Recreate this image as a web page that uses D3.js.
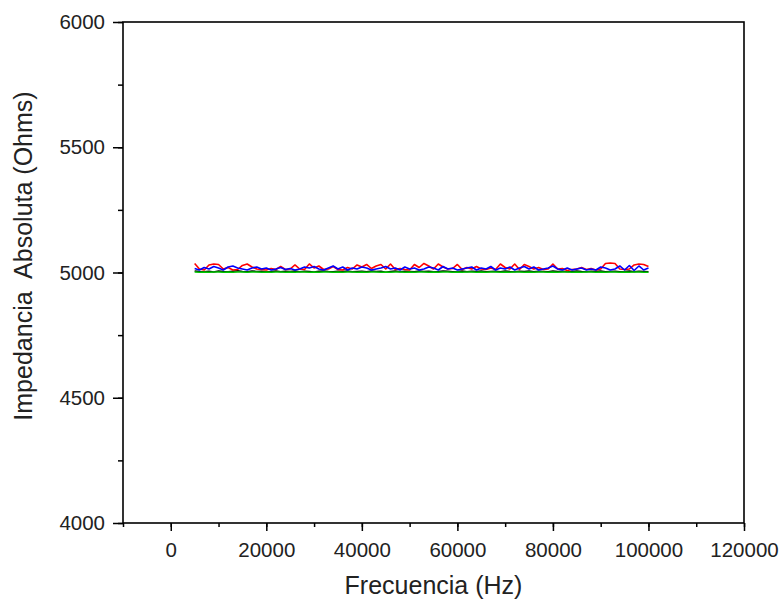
<!DOCTYPE html>
<html lang="es">
<head>
<meta charset="UTF-8">
<title>Impedancia Absoluta vs Frecuencia</title>
<script src="https://d3js.org/d3.v7.min.js"></script>
<style>
    body { margin: 0; background: #fff; }
    svg text { font-family: "Liberation Sans", Arial, sans-serif; fill: #222; }
</style>
</head>
<body>
<svg width="783" height="602"></svg>
<script>
// frequency grid (Hz) - one reading every 1000 Hz
const freqStart = 5000, freqStep = 1000;

// impedance readings (Ohms) per series
const serieNegra = [5006,5004,5003,5005,5002,5006,5004,5003,5005,5007,5004,5003,5006,5004,5005,5003,5004,5006,5003,5005,
                    5004,5006,5003,5005,5004,5002,5005,5006,5004,5003,5005,5004,5006,5003,5004,5005,5003,5006,5004,5005,
                    5001,5004,5006,5003,5005,5004,5003,5006,5004,5005,5003,5004,5006,5005,5003,5004,5006,5003,5005,5004,
                    5006,5003,5004,5005,5003,5006,5004,5003,5005,5004,5006,5003,5005,5004,5003,5006,5004,5005,5003,5004,
                    5006,5004,5003,5005,5004,5006,5003,5004,5005,5003,5004,5006,5003,5005,5004,5003];
const serieRoja = [5036,5014,5010,5030,5034,5032,5014,5020,5010,5012,5028,5034,5022,5014,5012,5010,5016,5012,5024,5012,
                   5014,5030,5014,5012,5034,5018,5026,5012,5014,5024,5012,5010,5020,5014,5030,5022,5032,5016,5026,5032,
                   5014,5034,5012,5016,5012,5010,5032,5020,5036,5026,5014,5034,5022,5014,5016,5032,5012,5020,5014,5024,
                   5014,5012,5018,5012,5034,5020,5014,5034,5012,5032,5024,5014,5020,5012,5014,5034,5014,5016,5008,5012,
                   5014,5020,5012,5016,5010,5014,5036,5038,5036,5014,5012,5014,5030,5034,5032,5024];
const serieAzul = [5016,5010,5020,5014,5024,5018,5010,5022,5026,5018,5014,5010,5018,5022,5014,5018,5010,5014,5020,5012,
                   5016,5010,5014,5022,5018,5024,5014,5010,5018,5026,5014,5022,5010,5018,5014,5022,5018,5010,5014,5018,
                   5024,5014,5018,5010,5022,5014,5018,5010,5014,5022,5018,5010,5024,5014,5018,5010,5014,5018,5022,5010,
                   5018,5014,5024,5010,5018,5014,5022,5010,5018,5024,5014,5022,5010,5014,5018,5026,5014,5010,5018,5010,
                   5014,5018,5010,5014,5010,5022,5018,5010,5014,5026,5010,5028,5008,5026,5010,5018];
const serieVerde = [5002,5001,5002,5001,5002,5002,5001,5002,5001,5002,5002,5001,5002,5002,5001,5002,5001,5002,5002,5001,
                    5002,5001,5002,5002,5001,5002,5001,5002,5002,5001,5002,5001,5002,5002,5001,5002,5001,5002,5002,5001,
                    5002,5001,5002,5002,5001,5002,5001,5002,5002,5001,5002,5001,5002,5002,5001,5002,5001,5002,5002,5001,
                    5002,5001,5002,5002,5001,5002,5001,5002,5002,5001,5002,5001,5002,5002,5001,5002,5001,5002,5002,5001,
                    5002,5001,5002,5002,5001,5002,5001,5002,5002,5001,5002,5001,5002,5002,5001,5001];

const series = [
    { name: "negra", color: "#000000", values: serieNegra },
    { name: "roja",  color: "#ff0000", values: serieRoja },
    { name: "azul",  color: "#0000ff", values: serieAzul },
    { name: "verde", color: "#00c800", values: serieVerde }
];

const xMajorTicks = [0, 20000, 40000, 60000, 80000, 100000, 120000];
const yMajorTicks = [4000, 4500, 5000, 5500, 6000];

const margin = { top: 22, right: 39, bottom: 79, left: 123 };
const width = 783 - margin.left - margin.right;
const height = 602 - margin.top - margin.bottom;

const svg = d3.select("svg");
const g = svg.append("g").attr("transform", `translate(${margin.left},${margin.top})`);

const x = d3.scaleLinear().domain([-10000, 120000]).range([0, width]);
const y = d3.scaleLinear().domain([4000, 6000]).range([height, 0]);

// minor ticks
g.append("g")
    .attr("transform", `translate(0,${height})`)
    .call(d3.axisBottom(x).tickValues(d3.range(-10000, 120001, 10000)).tickSize(4).tickFormat(""))
    .call(a => a.select(".domain").remove());
g.append("g")
    .call(d3.axisLeft(y).tickValues(d3.range(4000, 6001, 250)).tickSize(5).tickFormat(""))
    .call(a => a.select(".domain").remove());

// major ticks + labels
const xAxis = g.append("g")
    .attr("transform", `translate(0,${height})`)
    .call(d3.axisBottom(x).tickValues(xMajorTicks).tickSize(8).tickPadding(11).tickFormat(d3.format("d")));
xAxis.select(".domain").remove();
xAxis.selectAll("text").style("font-size", "20.5px");

const yAxis = g.append("g")
    .call(d3.axisLeft(y).tickValues(yMajorTicks).tickSize(10).tickPadding(8).tickFormat(d3.format("d")));
yAxis.select(".domain").remove();
yAxis.selectAll("text").style("font-size", "20.5px");

g.selectAll(".tick line").attr("stroke", "#000").attr("stroke-width", 1.5);

// frame
g.append("rect")
    .attr("width", width).attr("height", height)
    .attr("fill", "none").attr("stroke", "#000").attr("stroke-width", 1.6);

// lines
const line = d3.line()
    .x((d, i) => x(freqStart + i * freqStep))
    .y(d => y(d));

g.selectAll(".serie")
    .data(series)
    .enter().append("path")
    .attr("class", "serie")
    .attr("fill", "none")
    .attr("stroke", d => d.color)
    .attr("stroke-width", 1.6)
    .attr("stroke-linejoin", "round")
    .attr("d", d => line(d.values));

// axis titles
svg.append("text")
    .attr("x", margin.left + width / 2)
    .attr("y", 594)
    .attr("text-anchor", "middle")
    .style("font-size", "25px")
    .text("Frecuencia (Hz)");

svg.append("text")
    .attr("transform", `translate(32,256) rotate(-90)`)
    .attr("text-anchor", "middle")
    .style("font-size", "25px")
    .style("white-space", "pre")
    .text("Impedancia  Absoluta (Ohms)");
</script>
</body>
</html>
